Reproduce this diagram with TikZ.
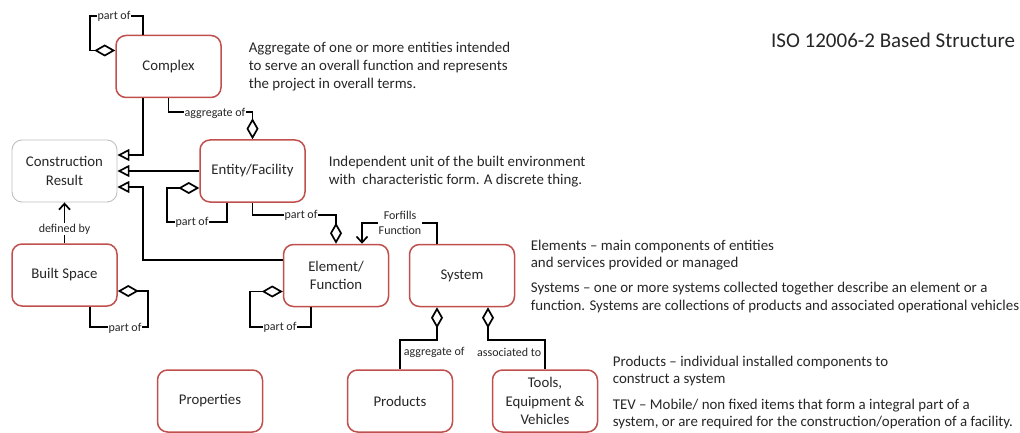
\documentclass[tikz,border=0pt]{standalone}
\usepackage{fontspec}
\setmainfont{Carlito}
\usetikzlibrary{arrows.meta,calc}
\definecolor{boxred}{HTML}{C0504D}
\definecolor{boxgray}{HTML}{BFBFBF}
\begin{document}
\begin{tikzpicture}[x=1pt,y=-1pt, line width=1.7pt,
 box/.style={draw=boxred, line width=1.5pt, rounded corners=10pt, minimum width=105pt, minimum height=62pt, align=center, font=\fontsize{14.8}{18.5}\selectfont, inner sep=0pt, text=black!85},
 graybox/.style={box, draw=boxgray, line width=0.9pt},
 lbl/.style={font=\fontsize{12}{14.5}\selectfont, fill=white, inner sep=1pt, align=center, text=black!85},
 plainlbl/.style={font=\fontsize{12}{14.5}\selectfont, inner sep=1pt, text=black!85},
 desc/.style={font=\fontsize{14.9}{18}\selectfont, align=left, anchor=base west, inner sep=0pt, text=black!85},
 gen/.style={-{Triangle[open,length=12pt,width=12pt]}},
 aggs/.style={{Diamond[open,length=21pt,width=12pt]}-},
 agge/.style={-{Diamond[open,length=21pt,width=12pt]}},
 vee/.style={-{Straight Barb[length=6pt,width=11pt]}}
]
\useasboundingbox (0,0) rectangle (1020,433);

% boxes
\node[box] (complex) at (168.5,66.5) {Complex};
\node[graybox] (cr) at (64.5,171) {Construction\\Result};
\node[box] (entity) at (252.5,171) {Entity/Facility};
\node[box] (built) at (64.5,275) {Built Space};
\node[box] (element) at (336,275.5) {Element/\\Function};
\node[box] (system) at (462,275.5) {System};
\node[box] (props) at (210,401) {Properties};
\node[box] (products) at (400,401) {Products};
\node[box] (tools) at (545,401) {Tools,\\Equipment \&\\Vehicles};

% title
\node[font=\fontsize{21}{24}\selectfont, anchor=east, inner sep=0pt, text=black!85] (title) at (1016,40) {ISO 12006-2 Based Structure};

% descriptions (anchored at the baseline of the last line)
\node[desc] (dcomplex) at (248,89) {Aggregate of one or more entities intended\\to serve an overall function and represents\\the project in overall terms.};
\node[desc] (dentity) at (328,184.5) {Independent unit of the built environment\\with\ \ characteristic form. A discrete thing.};
\node[desc, font=\fontsize{14.9}{17.5}\selectfont] (delement) at (530,267.5) {Elements -- main components of entities\\and services provided or managed};
\node[desc, font=\fontsize{14.9}{17.5}\selectfont] (dsystem) at (530,310) {Systems -- one or more systems collected together describe an element or a\\function. Systems are collections of products and associated operational vehicles};
\node[desc, font=\fontsize{14.9}{17}\selectfont] (dproducts) at (612,383.5) {Products -- individual installed components to\\construct a system};
\node[desc, font=\fontsize{14.9}{17}\selectfont] (dtev) at (612,426) {TEV -- Mobile/ non fixed items that form a integral part of a\\system, or are required for the construction/operation of a facility.};

% complex part of (self)
\draw[aggs] ([yshift=16pt]complex.west) -- (90,50.5) |- (143,16) -- ([xshift=-25.5pt]complex.north);
\node[lbl] (l1) at (114,16) {part of};

% generalisations to construction result
\draw[gen] ([xshift=-25.5pt]complex.south) |- ([yshift=16pt]cr.east);
\draw[gen] (entity.west) -- (cr.east);
\draw[gen] ([yshift=15.5pt]element.west) -| (143,187) -- ([yshift=-16pt]cr.east);

% complex aggregate of entity
\draw[agge] (complex.south) |- ($(entity.north)+(0,-27)$) -- (entity.north);
\node[lbl] (l2) at (215,113) {aggregate of};

% entity part of (self)
\draw[aggs] ([yshift=-17pt]entity.west) -- (167,188) |- (227,222) -- ([xshift=-25.5pt]entity.south);
\node[lbl] (l3) at (192,222) {part of};

% entity part of -> element
\draw[agge] (entity.south) |- ($(element.north)+(0,-29)$) -- (element.north);
\node[lbl] (l4) at (301,215) {part of};

% forfills function
\draw[vee] ([xshift=-25pt]system.north) |- (362,223) -- ([xshift=26pt]element.north);
\node[lbl] (l5) at (400,223) {Forfills\\Function};

% defined by
\draw[vee] (built.north) -- (cr.south);
\node[lbl] (l6) at (64.5,229) {defined by};

% built space part of (self)
\draw[aggs] ([yshift=-16pt]built.east) -- (148,291) |- (90,327) -- ([xshift=25.5pt]built.south);
\node[lbl] (l7) at (125,328) {part of};

% element part of (self)
\draw[aggs] ([yshift=-16pt]element.west) -- (250,291.5) |- (311,327) -- ([xshift=-25pt]element.south);
\node[lbl] (l8) at (280,327) {part of};

% system aggregates
\draw[aggs] ([xshift=-25pt]system.south) |- ($(products.north)+(0,-29)$) -- (products.north);
\node[plainlbl, anchor=west] (l9) at (402,352) {aggregate of};
\draw[aggs] ([xshift=26pt]system.south) |- ($(tools.north)+(0,-29)$) -- (tools.north);
\node[plainlbl, anchor=east] (l10) at (543,352) {associated to};
\end{tikzpicture}
\end{document}
